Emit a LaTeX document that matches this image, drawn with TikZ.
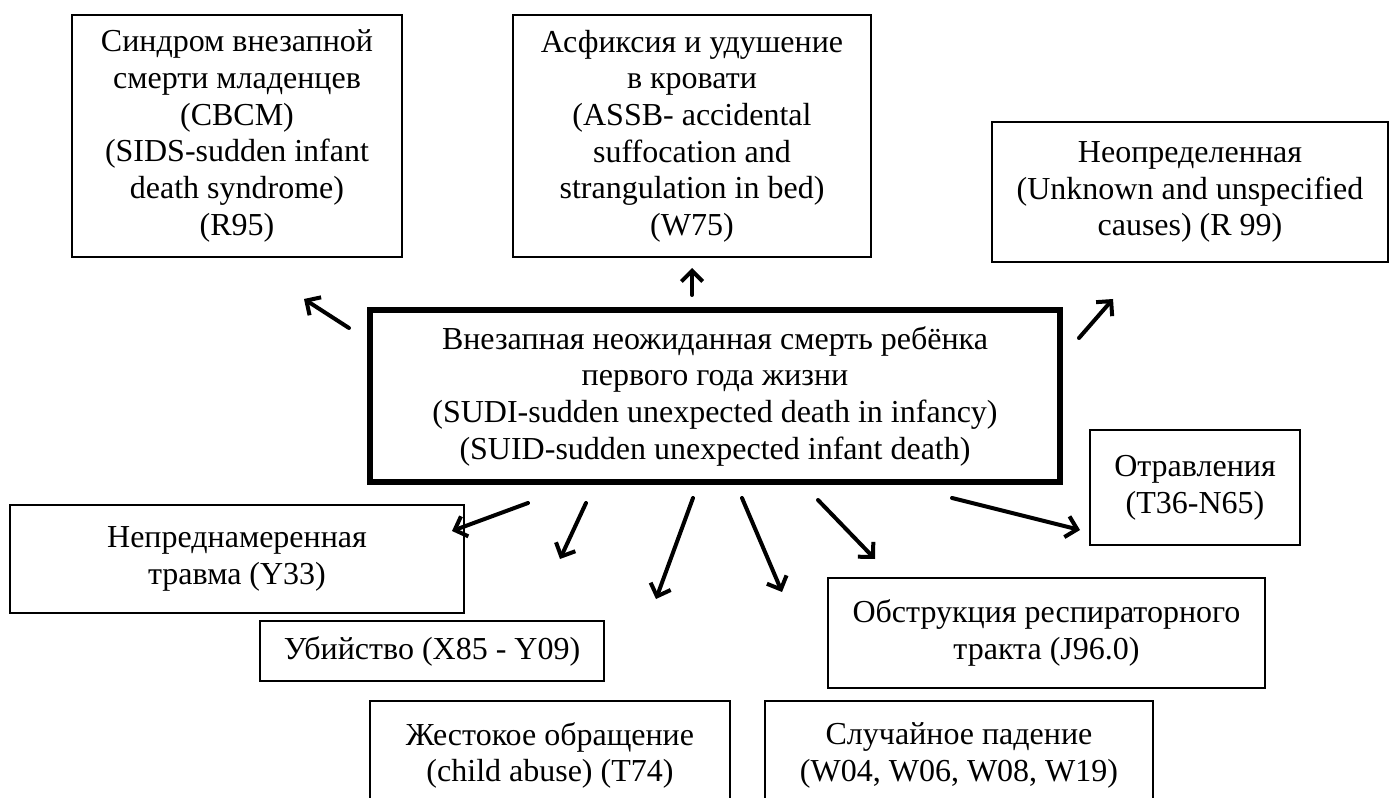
\documentclass[tikz,border=0pt]{standalone}
\usepackage{fontspec}
\setmainfont{Liberation Serif}
\usetikzlibrary{arrows.meta}

\begin{document}
\begin{tikzpicture}[
  x=0.75pt,
  y=-0.75pt,
  every node/.style={align=center, font=\fontsize{24}{27.5}\selectfont},
  box/.style={draw, line width=1.8pt, inner sep=0pt},
  mainbox/.style={draw, line width=4.5pt, inner sep=0pt},
  arr/.style={-{Straight Barb[length=8pt, width=16pt]}, line width=3pt, line cap=round, line join=round}
]
\useasboundingbox (0,0) rectangle (1389,798);

% outer boxes
\node[box, minimum width=330*0.75pt, minimum height=242*0.75pt] (sids) at (237,136)
  {Синдром внезапной\\смерти младенцев\\(СВСМ)\\(SIDS-sudden infant\\death syndrome)\\(R95)};
\node[box, minimum width=358*0.75pt, minimum height=242*0.75pt] (assb) at (692,136)
  {Асфиксия и удушение\\в кровати\\(ASSB- accidental\\suffocation and\\strangulation in bed)\\(W75)};
\node[box, minimum width=396*0.75pt, minimum height=140*0.75pt] (unk) at (1190,192)
  {Неопределенная\\(Unknown and unspecified\\causes) (R 99)};
\node[box, minimum width=210*0.75pt, minimum height=115*0.75pt] (poison) at (1195,487.5)
  {Отравления\\(T36-N65)};
\node[box, minimum width=454*0.75pt, minimum height=108*0.75pt] (unint) at (237,559)
  {Непреднамеренная\\травма (Y33)};
\node[box, minimum width=344*0.75pt, minimum height=60*0.75pt] (homicide) at (432,651)
  {Убийство (X85 - Y09)};
\node[box, minimum width=437*0.75pt, minimum height=110*0.75pt] (obstr) at (1046.5,633)
  {Обструкция респираторного\\тракта (J96.0)};
\node[box, minimum width=360*0.75pt, minimum height=109*0.75pt] (abuse) at (550,755.5)
  {Жестокое обращение\\(child abuse) (T74)};
\node[box, minimum width=388*0.75pt, minimum height=109*0.75pt] (fall) at (959,755.5)
  {Случайное падение\\(W04, W06, W08, W19)};

% central box
\node[mainbox, minimum width=690*0.75pt, minimum height=172*0.75pt] (sudi) at (715,396)
  {Внезапная неожиданная смерть ребёнка\\первого года жизни\\(SUDI-sudden unexpected death in infancy)\\(SUID-sudden unexpected infant death)};

% arrow ends
\coordinate (s1) at (349,328);  \coordinate (e1) at (304,299);
\coordinate (s2) at (692,295);  \coordinate (e2) at (692,268);
\coordinate (s3) at (1079,338); \coordinate (e3) at (1113,299);
\coordinate (s4) at (528,503);  \coordinate (e4) at (452,531);
\coordinate (s5) at (586,503);  \coordinate (e5) at (560,559);
\coordinate (s6) at (693,498);  \coordinate (e6) at (656,599);
\coordinate (s7) at (742,498);  \coordinate (e7) at (782,592);
\coordinate (s8) at (818,500);  \coordinate (e8) at (875,559);
\coordinate (s9) at (952,498);  \coordinate (e9) at (1080,530);

\foreach \i in {1,...,9}
  \draw[arr] (s\i) -- (e\i);
\end{tikzpicture}
\end{document}
